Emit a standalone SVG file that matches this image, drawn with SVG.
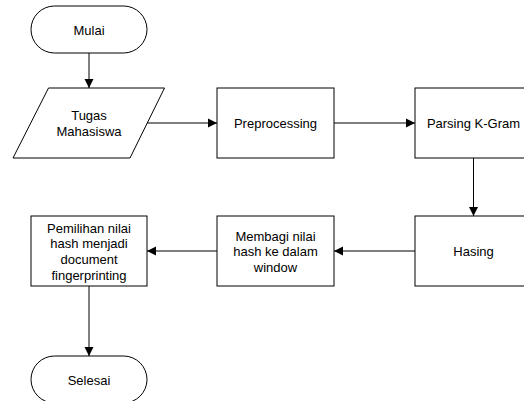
<svg xmlns="http://www.w3.org/2000/svg" width="524" height="401" viewBox="0 0 524 401">
<defs>
<style>
.s{fill:#fff;stroke:#000;stroke-width:1}
.t{font-family:"Liberation Sans",Arial,sans-serif;font-size:13px;fill:#000;text-anchor:middle}
.c{fill:none;stroke:#000;stroke-width:1}
</style>
<marker id="a" markerWidth="10" markerHeight="10" refX="9" refY="5" orient="auto" markerUnits="userSpaceOnUse">
<path d="M0,0.5 L9,5 L0,9.5 Z" fill="#000"/>
</marker>
</defs>
<rect width="524" height="401" fill="#fff"/>
<g id="connectors">
<path class="c" d="M89,53 V88" marker-end="url(#a)"/>
<path class="c" d="M147,123 H217" marker-end="url(#a)"/>
<path class="c" d="M334,123 H415" marker-end="url(#a)"/>
<path class="c" d="M473.5,158 V216" marker-end="url(#a)"/>
<path class="c" d="M415,251 H334" marker-end="url(#a)"/>
<path class="c" d="M217,251 H147" marker-end="url(#a)"/>
<path class="c" d="M89,286 V356" marker-end="url(#a)"/>
</g>
<g id="mulai">
<rect class="s" x="31" y="6" width="116" height="47" rx="23.5" ry="23.5"/>
<text class="t" x="89" y="34.5">Mulai</text>
</g>
<g id="tugas">
<polygon class="s" points="48.5,88 164.5,88 130,158 13,158"/>
<text class="t" x="89" y="119.5">Tugas</text>
<text class="t" x="89" y="135.5">Mahasiswa</text>
</g>
<g id="preprocessing">
<rect class="s" x="217" y="88" width="117" height="70"/>
<text class="t" x="275.5" y="127.5">Preprocessing</text>
</g>
<g id="parsing">
<rect class="s" x="415" y="88" width="117" height="70"/>
<text class="t" x="473.5" y="127.5">Parsing K-Gram</text>
</g>
<g id="hasing">
<rect class="s" x="415" y="216" width="117" height="70"/>
<text class="t" x="473.5" y="256">Hasing</text>
</g>
<g id="membagi">
<rect class="s" x="217" y="216" width="117" height="70"/>
<text class="t" x="275.5" y="240.5">Membagi nilai</text>
<text class="t" x="275.5" y="256">hash ke dalam</text>
<text class="t" x="275.5" y="271.5">window</text>
</g>
<g id="pemilihan">
<rect class="s" x="31" y="216" width="116" height="70"/>
<text class="t" x="89" y="232.5">Pemilihan nilai</text>
<text class="t" x="89" y="248">hash menjadi</text>
<text class="t" x="89" y="264">document</text>
<text class="t" x="89" y="279.5">fingerprinting</text>
</g>
<g id="selesai">
<rect class="s" x="31" y="356" width="116" height="47" rx="23.5" ry="23.5"/>
<text class="t" x="89" y="384.5">Selesai</text>
</g>
</svg>
